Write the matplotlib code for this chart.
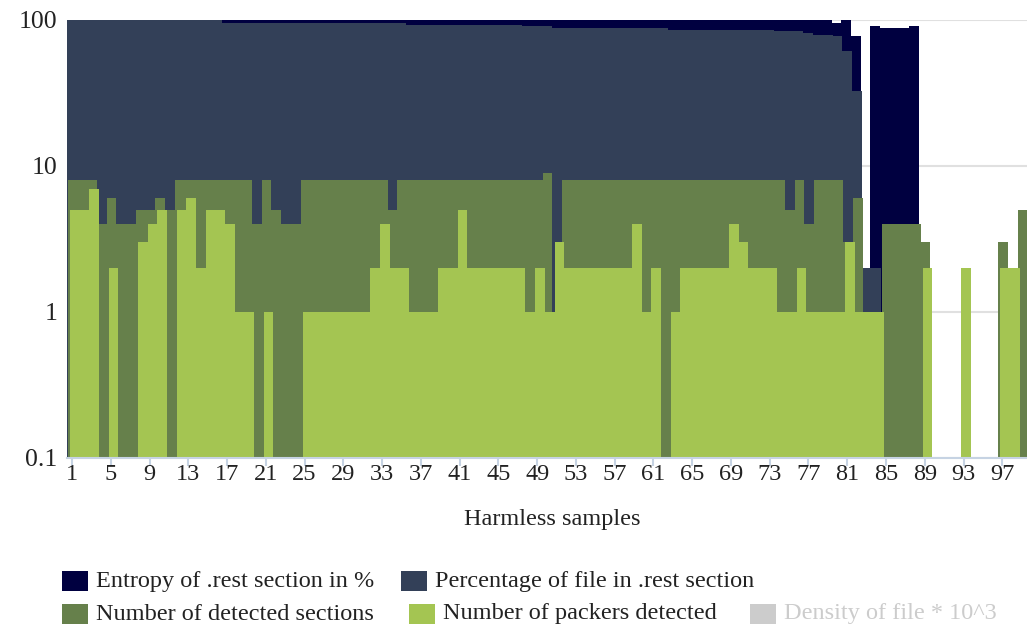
import matplotlib
matplotlib.use('Agg')
import matplotlib.pyplot as plt
from matplotlib.patches import Rectangle
from matplotlib.ticker import NullLocator
import numpy as np

# ---------------- data ----------------
samples = list(range(1, 100))

entropy = [100]*79 + [95.4, 100, 77.7, 0, 91, 88, 88, 88, 91] + [0]*11

percentage = ([100]*16 + [95.4]*19 + [92.4]*12 + [91.0]*3 + [88.1]*12 + [85.4]*11
              + [84.1]*3 + [81.5] + [78.9]*2 + [77.7, 61.3, 32.6, 2, 2] + [0]*15)

sections = [8, 8, 8, 4, 6, 4, 4, 5, 5, 6, 5, 8, 8, 8, 8, 8, 8, 8, 8, 4,
            8, 5, 4, 4, 8, 8, 8, 8, 8, 8, 8, 8, 8, 5, 8, 8, 8, 8, 8, 8,
            8, 8, 8, 8, 8, 8, 8, 8, 8, 9, 1, 8, 8, 8, 8, 8, 8, 8, 8, 8,
            8, 8, 8, 8, 8, 8, 8, 8, 8, 8, 8, 8, 8, 8, 5, 8, 4, 8, 8, 8,
            3, 6, 1, 1, 4, 4, 4, 4, 3, 0, 0, 0, 0, 0, 0, 0, 3, 0, 5]

packers = [5, 5, 7, 0, 2, 0, 0, 3, 4, 5, 0, 5, 6, 2, 5, 5, 4, 1, 1, 0,
           1, 0, 0, 0, 1, 1, 1, 1, 1, 1, 1, 2, 4, 2, 2, 1, 1, 1, 2, 2,
           5, 2, 2, 2, 2, 2, 2, 1, 2, 1, 3, 2, 2, 2, 2, 2, 2, 2, 4, 1,
           2, 0, 1, 2, 2, 2, 2, 2, 4, 3, 2, 2, 2, 1, 1, 2, 1, 1, 1, 1,
           3, 1, 1, 1, 0, 0, 0, 0, 2, 0, 0, 0, 2, 0, 0, 0, 2, 2, 0]

tick_positions = list(range(1, 100, 4))
tick_labels = [str(t) for t in tick_positions]
ytick_values = [0.1, 1, 10, 100]
ytick_labels = ['0.1', '1', '10', '100']

legend_names = ['Entropy of .rest section in %', 'Percentage of file in .rest section',
                'Number of detected sections', 'Number of packers detected',
                'Density of file * 10^3']

# ---------------- style ----------------
C_ENT = '#000040'
C_PCT = '#334058'
C_SEC = '#66804b'
C_PAK = '#a4c552'
C_OFF = '#cccccc'
TXT = '#222222'
AXC = '#c6d3e3'
FONT = ['Liberation Serif', 'DejaVu Serif']
FS = 17.5

W, H = 1027, 628
fig = plt.figure(figsize=(W / 100, H / 100), dpi=100)
ax = fig.add_axes([67.2 / W, 1 - 458 / H, (1026.5 - 67.2) / W, (458 - 20) / H])
ax.set_yscale('log')
ax.set_ylim(0.1, 100)
ax.set_xlim(0.5, 99.5)

x = np.array(samples, dtype=float)
base = 0.01
for vals, col, off in [(entropy, C_ENT, -0.12), (percentage, C_PCT, -0.02),
                       (sections, C_SEC, 0.08), (packers, C_PAK, 0.29)]:
    v = np.array(vals, dtype=float)
    m = v > 0
    ax.bar(x[m] + off, v[m] - base, bottom=base, width=1.0, color=col,
           edgecolor='none', linewidth=0, antialiased=False, zorder=2)

# grid / axes
ax.yaxis.set_minor_locator(NullLocator())
ax.set_yticks(ytick_values)
ax.set_yticklabels(ytick_labels)
ax.yaxis.grid(True, color='#e0e0e0', linewidth=1.5, zorder=0)
ax.set_axisbelow(True)
for s in ['top', 'right', 'left']:
    ax.spines[s].set_visible(False)
ax.spines['bottom'].set_color(AXC)
ax.spines['bottom'].set_linewidth(1.5)
ax.spines['bottom'].set_zorder(3)
ax.tick_params(axis='y', length=0, pad=7.3, labelsize=18.5, labelcolor=TXT)
ax.set_xticks(tick_positions)
ax.set_xticklabels(tick_labels)
ax.tick_params(axis='x', length=6, width=1.5, color=AXC, pad=-2,
               labelsize=FS, labelcolor=TXT)
for lab in ax.get_xticklabels() + ax.get_yticklabels():
    lab.set_family(FONT)

fig.text(552 / W, 1 - 519 / H, 'Harmless samples', ha='center', va='center',
         fontsize=FS, color=TXT, family=FONT)

# legend (manual layout)
items = [(62, 581, C_ENT, legend_names[0], TXT),
         (401, 581, C_PCT, legend_names[1], TXT),
         (62, 614, C_SEC, legend_names[2], TXT),
         (409, 614, C_PAK, legend_names[3], TXT),
         (750, 614, C_OFF, legend_names[4], C_OFF)]
for px, py, col, name, tc in items:
    fig.add_artist(Rectangle((px / W, 1 - (py + 10) / H), 26 / W, 20 / H,
                             transform=fig.transFigure, color=col, lw=0))
    fig.text((px + 34) / W, 1 - py / H, name, ha='left', va='center',
             fontsize=FS, color=tc, family=FONT)

fig.savefig('out.png', dpi=100)
